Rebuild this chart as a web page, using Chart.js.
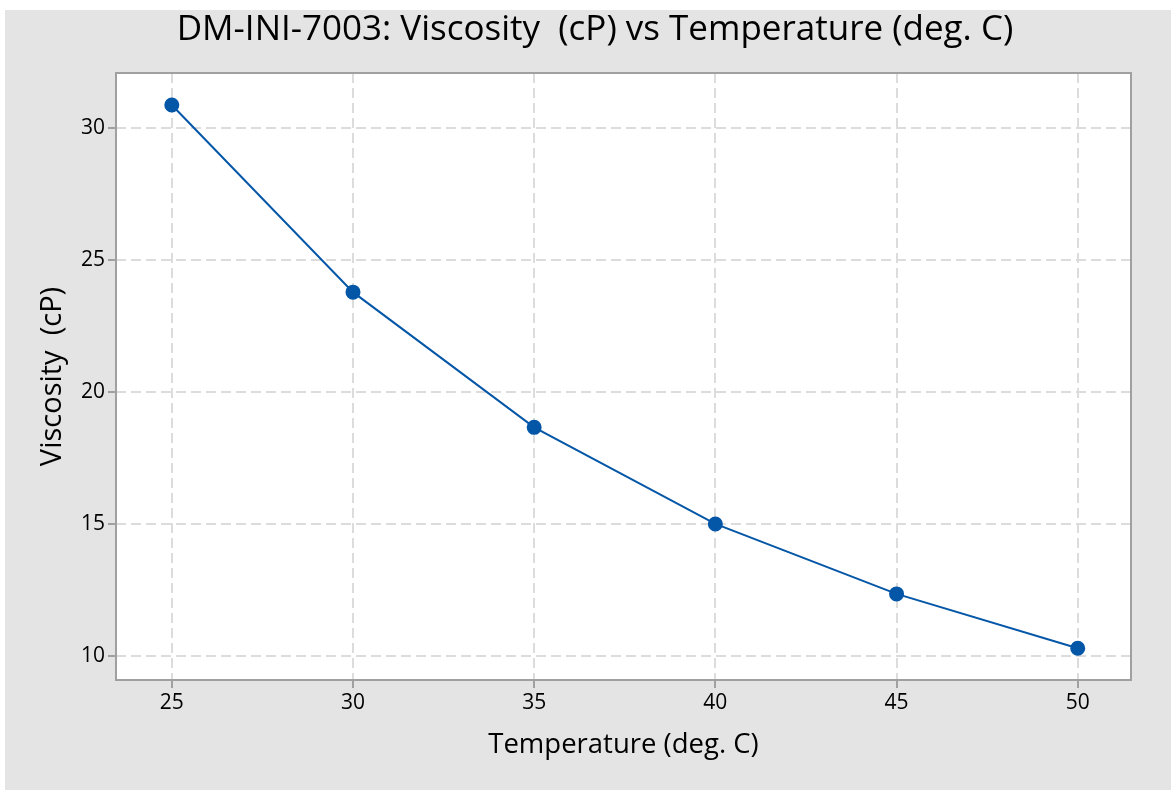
<!DOCTYPE html>
<html>
<head>
<meta charset="utf-8">
<script src="https://cdn.jsdelivr.net/npm/chart.js@4/dist/chart.umd.min.js"></script>
<style>
  html, body { margin: 0; padding: 0; background: #ffffff; }
  #c { display: block; }
</style>
</head>
<body>
<canvas id="c" width="1171" height="790"></canvas>
<script>
// ---- data ----
const temperatures = [25, 30, 35, 40, 45, 50];
const viscosity = [30.87, 23.78, 18.66, 15.0, 12.35, 10.29];
const xTickValues = [25, 30, 35, 40, 45, 50];
const yTickValues = [10, 15, 20, 25, 30];
const chartTitle = 'DM-INI-7003: Viscosity  (cP) vs Temperature (deg. C)';
const xTitle = 'Temperature (deg. C)';
const yTitle = 'Viscosity  (cP)';

const FONT = '"Open Sans", "Noto Sans", sans-serif';
const GRID = '#dcdcdc';
const FRAME = '#a0a0a0';
const BLUE = '#0456a7';

const backgroundPlugin = {
  id: 'bgFrame',
  beforeDraw(chart) {
    const ctx = chart.ctx;
    const a = chart.chartArea;
    ctx.save();
    ctx.fillStyle = '#ffffff';
    ctx.fillRect(0, 0, chart.width, chart.height);
    ctx.fillStyle = '#e4e4e4';
    ctx.fillRect(5, 10, chart.width - 5, chart.height - 10);
    ctx.fillStyle = '#ffffff';
    ctx.fillRect(a.left, a.top, a.right - a.left, a.bottom - a.top);
    ctx.restore();
  },
  beforeDatasetsDraw(chart) {
    const ctx = chart.ctx;
    const a = chart.chartArea;
    ctx.save();
    ctx.strokeStyle = FRAME;
    ctx.lineWidth = 2;
    ctx.strokeRect(a.left, a.top, a.right - a.left, a.bottom - a.top);
    ctx.restore();
  },
  afterLayout(chart) {
    // centre the title over the grey panel as in the reference
    if (chart.titleBlock) {
      chart.titleBlock.left = 19;
      chart.titleBlock.right = 1171;
    }
  }
};

const gridOpts = {
  color: GRID,
  lineWidth: 2,
  drawTicks: true,
  tickLength: 8,
  tickColor: FRAME,
  tickWidth: 2,
  tickBorderDash: []
};

new Chart(document.getElementById('c'), {
  type: 'line',
  data: {
    datasets: [{
      data: temperatures.map((t, i) => ({ x: t, y: viscosity[i] })),
      borderColor: BLUE,
      backgroundColor: BLUE,
      pointBackgroundColor: BLUE,
      pointBorderColor: BLUE,
      borderWidth: 2,
      pointRadius: 6.5,
      pointHoverRadius: 6.5,
      tension: 0,
      fill: false
    }]
  },
  options: {
    responsive: false,
    animation: false,
    devicePixelRatio: 1,
    layout: { padding: { left: 0, right: 40, top: 0, bottom: 0 } },
    plugins: {
      legend: { display: false },
      tooltip: { enabled: false },
      title: {
        display: true,
        text: chartTitle,
        color: '#000000',
        font: { family: FONT, size: 35, weight: 'normal', lineHeight: 1.2 },
        padding: { top: 9, bottom: 22 }
      }
    },
    scales: {
      x: {
        type: 'linear',
        min: 23.46,
        max: 51.47,
        afterFit(s) { s.height = 110; },
        afterBuildTicks(s) { s.ticks = xTickValues.map(v => ({ value: v })); },
        border: { display: false, dash: [10, 5] },
        grid: gridOpts,
        ticks: {
          color: '#000000',
          font: { family: FONT, size: 21 },
          padding: 2,
          maxRotation: 0,
          autoSkip: false
        },
        title: {
          display: true,
          text: xTitle,
          color: '#000000',
          font: { family: FONT, size: 27.5, lineHeight: 1.2 },
          padding: { top: 0, bottom: 28 }
        }
      },
      y: {
        type: 'linear',
        min: 9.09,
        max: 32.08,
        afterFit(s) { s.width = 116; },
        afterBuildTicks(s) { s.ticks = yTickValues.map(v => ({ value: v })); },
        border: { display: false, dash: [10, 5] },
        grid: gridOpts,
        ticks: {
          color: '#000000',
          font: { family: FONT, size: 21 },
          padding: 3,
          autoSkip: false
        },
        title: {
          display: true,
          text: yTitle,
          color: '#000000',
          font: { family: FONT, size: 29, lineHeight: 1.2 },
          padding: { top: 35, bottom: 0 }
        }
      }
    }
  },
  plugins: [backgroundPlugin]
});
</script>
</body>
</html>
